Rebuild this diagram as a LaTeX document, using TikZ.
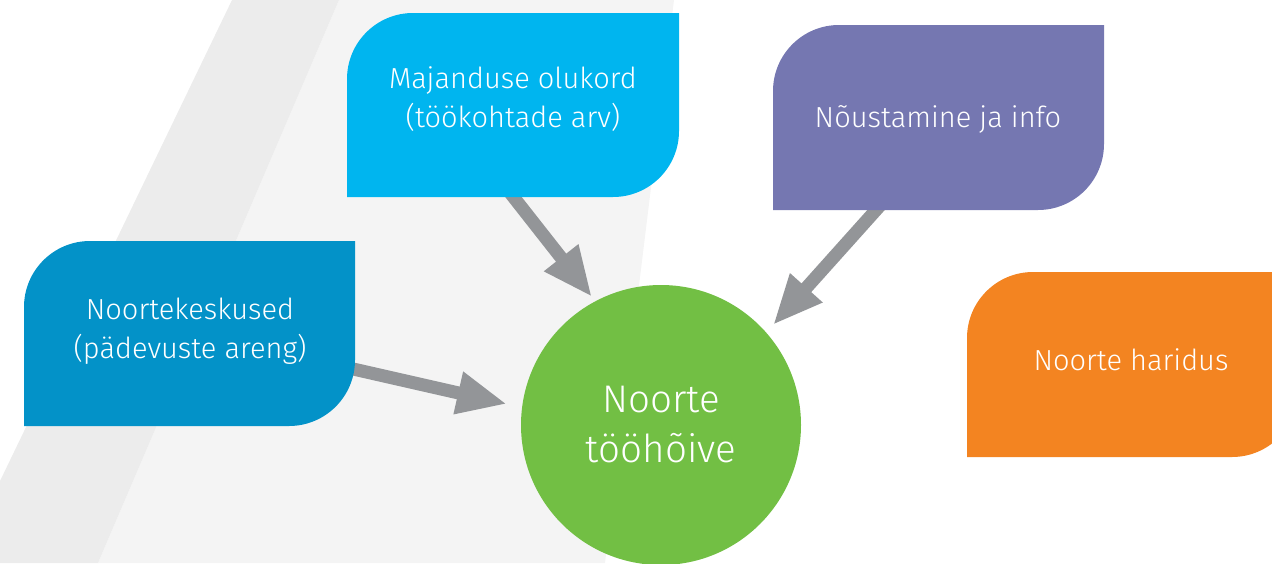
\documentclass[tikz,border=0pt]{standalone}
\usepackage{fontspec}
\setmainfont{Fira Sans Light}
\usetikzlibrary{arrows.meta}
\definecolor{bgdark}{HTML}{ECECEC}
\definecolor{bglight}{HTML}{F4F4F4}
\definecolor{cyanbox}{HTML}{00B5EF}
\definecolor{bluebox}{HTML}{0392C8}
\definecolor{purplebox}{HTML}{7577B1}
\definecolor{orangebox}{HTML}{F38421}
\definecolor{greencirc}{HTML}{72BF44}
\definecolor{arrowgray}{HTML}{939598}
\tikzset{
  lbl/.style={text=white, align=center, font=\fontsize{29}{39}\selectfont, inner sep=0pt},
  arr/.style={draw=arrowgray, line width=13pt, -{Triangle[length=50pt,width=40pt]}},
  goalc/.style={circle, fill=greencirc, minimum size=280pt, inner sep=0pt, text=white, align=center, font=\fontsize{38.5}{50}\selectfont}
}
\begin{document}
\begin{tikzpicture}[x=1pt,y=1pt]
\clip (0,0) rectangle (1272,-563);
\useasboundingbox (0,0) rectangle (1272,-563);
% background bands
\fill[bglight] (339,0) -- (674,0) -- (605,-563) -- (98,-563) -- cycle;
\fill[bgdark] (232,0) -- (339,0) -- (98,-563) -- (0,-563) -- (0,-481) -- cycle;
% arrow end points
\coordinate (s1) at (504,-185);
\coordinate (t1) at (592,-297);
\coordinate (s2) at (885,-200);
\coordinate (t2) at (773,-325);
\coordinate (s3) at (340,-366);
\coordinate (t3) at (507,-404);
\draw[arr] (s1) -- (t1);
\draw[arr] (s2) -- (t2);
\draw[arr] (s3) -- (t3);
% boxes (top-left and bottom-right corners rounded)
\fill[cyanbox] (347,-197) -- (347,-79) arc (180:90:66pt) -- (679,-13) -- (679,-131) arc (0:-90:66pt) -- cycle;
\fill[purplebox] (773,-210) -- (773,-91) arc (180:90:66pt) -- (1104,-25) -- (1104,-144) arc (0:-90:66pt) -- cycle;
\fill[bluebox] (24,-426) -- (24,-307) arc (180:90:66pt) -- (355,-241) -- (355,-360) arc (0:-90:66pt) -- cycle;
\fill[orangebox] (967,-457) -- (967,-338) arc (180:90:66pt) -- (1298,-272) -- (1298,-391) arc (0:-90:66pt) -- cycle;
% labels
\node[lbl] (maj) at (513,-99) {Majanduse olukord\\(töökohtade arv)};
\node[lbl] (nou) at (938,-119) {Nõustamine ja info};
\node[lbl] (kes) at (190,-331) {Noortekeskused\\(pädevuste areng)};
\node[lbl] (har) at (1131,-360) {Noorte haridus};
\node[goalc] (goal) at (661,-425) {Noorte\\tööhõive};
\end{tikzpicture}
\end{document}
